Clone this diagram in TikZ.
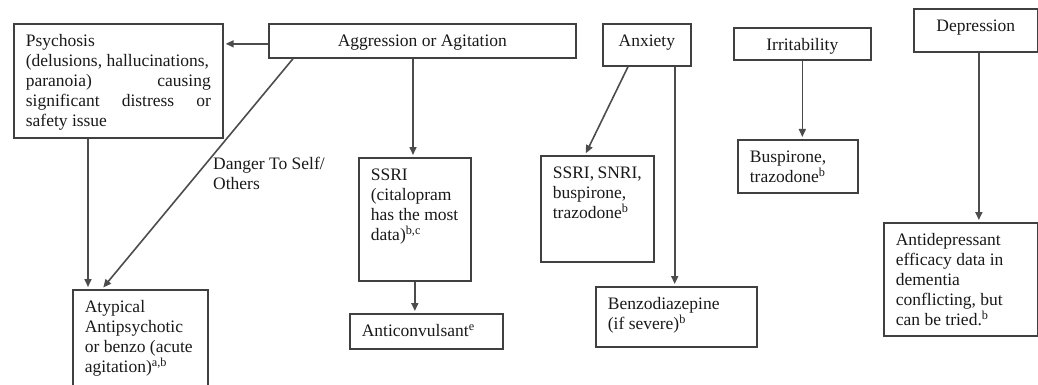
\documentclass[tikz,border=0pt]{standalone}
\usepackage{fontspec}
\setmainfont{Liberation Serif}
\usetikzlibrary{arrows.meta}
\newcommand\bt[3]{\begin{minipage}[t][#1pt][t]{#2pt}\rule{0pt}{23pt}#3\end{minipage}}
\tikzset{
  boxn/.style={draw=black!75, line width=1.7pt, inner xsep=12pt, inner ysep=0pt, anchor=north west,
    font=\fontsize{17.5}{20}\selectfont, text=black!90},
  arr/.style={draw=black!70, line width=1.6pt, -{Triangle[length=8pt,width=7pt]}, shorten >=2pt},
  lbl/.style={inner sep=0pt, anchor=north west, align=left, font=\fontsize{17.5}{20}\selectfont, text=black!90}
}
\begin{document}
\begin{tikzpicture}[x=1pt,y=-1pt]
\useasboundingbox (0,0) rectangle (1038,385);
\clip (0,0) rectangle (1038,385);
\node[boxn] (psy) at (13,23) {\bt{114}{185}{Psychosis\\(delusions, hallucinations,\\paranoia)\hfill causing\\significant\hfill distress\hfill or\\safety issue}};
\node[boxn] (aggr) at (268,23) {\bt{34}{283}{\centering Aggression or Agitation}};
\node[boxn] (anx) at (602,23) {\bt{42}{64}{\centering Anxiety}};
\node[boxn] (irr) at (733,27) {\bt{32}{113}{\centering Irritability}};
\node[boxn] (dep) at (913,8) {\bt{43}{100}{\centering Depression}};
\node[boxn] (aty) at (72,289) {\bt{100}{111}{Atypical\\Antipsychotic\\or benzo (acute\\agitation)\textsuperscript{a,b}}};
\node[boxn] (ssri) at (358,157) {\bt{123}{88}{SSRI\\(citalopram\\has the most\\data)\textsuperscript{b,c}}};
\node[boxn] (snri) at (540,155) {\bt{106}{89}{SSRI, SNRI,\\buspirone,\\trazodone\textsuperscript{b}}};
\node[boxn] (antic) at (349,313) {\bt{35}{129}{Anticonvulsant\textsuperscript{e}}};
\node[boxn] (benzo) at (595,286) {\bt{60}{137}{Benzodiazepine\\(if severe)\textsuperscript{b}}};
\node[boxn] (busp) at (737,139) {\bt{53}{96}{Buspirone,\\trazodone\textsuperscript{b}}};
\node[boxn] (antid) at (883,222) {\bt{113}{130}{Antidepressant\\efficacy data in\\dementia\\conflicting, but\\can be tried.\textsuperscript{b}}};
\node[lbl] (dlbl) at (213,146) {\rule{0pt}{23pt}Danger To Self/\\Others};
% connectors
\draw[arr] ([yshift=-3pt]aggr.west) -- ([yshift=-3pt]aggr.west -| psy.east);
\draw[arr] ([xshift=75pt]psy.south west) -- ([xshift=75pt]psy.south west |- aty.north);
\draw[arr] ([xshift=25pt]aggr.south west) -- ([xshift=30pt]aty.north west);
\draw[arr] ([xshift=55pt]ssri.north west |- aggr.south) -- ([xshift=55pt]ssri.north west);
\draw[arr] (ssri.south) -- (ssri.south |- antic.north);
\draw[arr] ([xshift=26pt]anx.south west) -- ([xshift=45pt]snri.north west);
\draw[arr] ([xshift=-17pt]anx.south east) -- ([xshift=-17pt]anx.south east |- benzo.north);
\draw[arr] (irr.south) -- (irr.south |- busp.north);
\draw[arr] ([xshift=3pt]dep.south) -- ([xshift=3pt]dep.south |- antid.north);
\end{tikzpicture}
\end{document}
